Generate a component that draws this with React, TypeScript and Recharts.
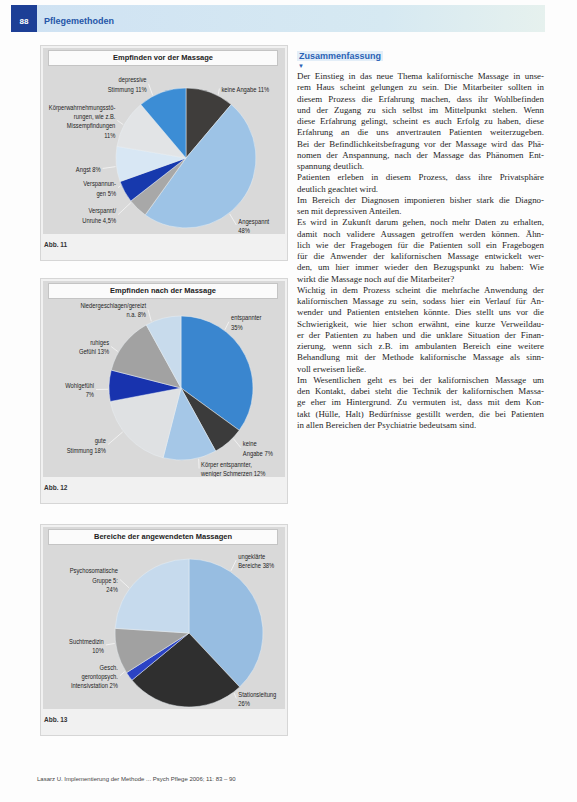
import { PieChart, Pie, Cell } from "recharts";

// Abb. 11 – Empfinden vor der Massage
const vorNames = ["keine Angabe", "Angespannt", "Verspannt/Unruhe", "Verspannungen", "Angst", "Körperwahrnehmungsstörungen", "depressive Stimmung"];
const vorValues = [11, 48, 4.5, 5, 8, 11, 11];
const vorLabels = [
  ["keine Angabe 11%"],
  ["Angespannt", "48%"],
  ["Verspannt/", "Unruhe 4,5%"],
  ["Verspannun-", "gen 5%"],
  ["Angst 8%"],
  ["Körperwahrnehmungsstö-", "rungen, wie z.B.", "Missempfindungen", "11%"],
  ["depressive", "Stimmung 11%"],
];

// Abb. 12 – Empfinden nach der Massage
const nachNames = ["entspannter", "keine Angabe", "Körper entspannter", "gute Stimmung", "Wohlgefühl", "ruhiges Gefühl", "Niedergeschlagen/gereizt"];
const nachValues = [35, 7, 12, 18, 7, 13, 8];
const nachLabels = [
  ["entspannter", "35%"],
  ["keine", "Angabe 7%"],
  ["Körper entspannter,", "weniger Schmerzen 12%"],
  ["gute", "Stimmung 18%"],
  ["Wohlgefühl", "7%"],
  ["ruhiges", "Gefühl 13%"],
  ["Niedergeschlagen/gereizt", "n.a. 8%"],
];

// Abb. 13 – Bereiche der angewendeten Massagen
const bereichNames = ["ungeklärte Bereiche", "Stationsleitung", "Intensivstation", "Suchtmedizin", "Psychosomatische Gruppe"];
const bereichValues = [38, 26, 2, 10, 24];
const bereichLabels = [
  ["ungeklärte", "Bereiche 38%"],
  ["Stationsleitung", "26%"],
  ["Gesch.", "gerontopsych.", "Intensivstation 2%"],
  ["Suchtmedizin", "10%"],
  ["Psychosomatische", "Gruppe 5:", "24%"],
];

// colours and label placement (clock angle in degrees, distance from centre)
const vorColors = ["#3f3d3b", "#9dc3e6", "#a8a8a8", "#1739ad", "#d8e7f4", "#e2e4e6", "#3c8dd5"];
const nachColors = ["#3a86cf", "#3b3b3b", "#a5c7e7", "#dfe1e3", "#1833ae", "#a2a2a2", "#c8dbec"];
const bereichColors = ["#97bde1", "#2f2f2f", "#2b43c4", "#a1a1a1", "#c6daed"];
const vorLabelPos = [[27, 78], [142, 85], [231, 90], [247, 76], [263, 86], [298, 80], [332, 84]];
const nachLabelPos = [[37, 83], [134, 86], [166, 83], [233, 94], [269, 87], [300, 83], [336, 86]];
const bereichLabelPos = [[34, 88], [143, 82], [239, 83], [262, 86], [307, 89]];

const summaryLines = [
  "Der Einstieg in das neue Thema kalifornische Massage in unse-",
  "rem Haus scheint gelungen zu sein. Die Mitarbeiter sollten in",
  "diesem Prozess die Erfahrung machen, dass ihr Wohlbefinden",
  "und der Zugang zu sich selbst im Mittelpunkt stehen. Wenn",
  "diese Erfahrung gelingt, scheint es auch Erfolg zu haben, diese",
  "Erfahrung an die uns anvertrauten Patienten weiterzugeben.",
  "Bei der Befindlichkeitsbefragung vor der Massage wird das Phä-",
  "nomen der Anspannung, nach der Massage das Phänomen Ent-",
  "spannung deutlich.",
  "Patienten erleben in diesem Prozess, dass ihre Privatsphäre",
  "deutlich geachtet wird.",
  "Im Bereich der Diagnosen imponieren bisher stark die Diagno-",
  "sen mit depressiven Anteilen.",
  "Es wird in Zukunft darum gehen, noch mehr Daten zu erhalten,",
  "damit noch validere Aussagen getroffen werden können. Ähn-",
  "lich wie der Fragebogen für die Patienten soll ein Fragebogen",
  "für die Anwender der kalifornischen Massage entwickelt wer-",
  "den, um hier immer wieder den Bezugspunkt zu haben: Wie",
  "wirkt die Massage noch auf die Mitarbeiter?",
  "Wichtig in dem Prozess scheint die mehrfache Anwendung der",
  "kalifornischen Massage zu sein, sodass hier ein Verlauf für An-",
  "wender und Patienten entstehen könnte. Dies stellt uns vor die",
  "Schwierigkeit, wie hier schon erwähnt, eine kurze Verweildau-",
  "er der Patienten zu haben und die unklare Situation der Finan-",
  "zierung, wenn sich z.B. im ambulanten Bereich eine weitere",
  "Behandlung mit der Methode kalifornische Massage als sinn-",
  "voll erweisen ließe.",
  "Im Wesentlichen geht es bei der kalifornischen Massage um",
  "den Kontakt, dabei steht die Technik der kalifornischen Massa-",
  "ge eher im Hintergrund. Zu vermuten ist, dass mit dem Kon-",
  "takt (Hülle, Halt) Bedürfnisse gestillt werden, die bei Patienten",
  "in allen Bereichen der Psychiatrie bedeutsam sind.",
];
const paragraphEnds = [8, 10, 12, 18, 26, 31];

const RAD = Math.PI / 180;
const labelFont = "'Liberation Sans', Arial, sans-serif";

function makeLabel(lines: string[][], pos: number[][]) {
  return (p: any) => {
    const { cx, cy, outerRadius, index } = p;
    const [ang, dist] = pos[index];
    const s = Math.sin(ang * RAD);
    const c = Math.cos(ang * RAD);
    const x = cx + dist * s;
    const y = cy - dist * c;
    const right = s > 0;
    const ex = cx + (outerRadius + 1) * s;
    const ey = cy - (outerRadius + 1) * c;
    const ls = lines[index];
    const lh = 9.4;
    const y0 = y - ((ls.length - 1) * lh) / 2;
    return (
      <g key={`lbl-${index}`}>
        <line x1={ex} y1={ey} x2={right ? x - 2 : x + 2} y2={y} stroke="#f6f6f6" strokeWidth={0.8} />
        <text
          x={x}
          y={y0}
          textAnchor={right ? "start" : "end"}
          dominantBaseline="central"
          fontSize={6.9}
          fontFamily={labelFont}
          fill="#1e1e1e"
          transform={`translate(${x},0) scale(0.84,1) translate(${-x},0)`}
        >
          {ls.map((t, i) => (
            <tspan key={i} x={x} y={y0 + i * lh}>
              {t}
            </tspan>
          ))}
        </text>
      </g>
    );
  };
}

type PanelProps = {
  top: number;
  grayH: number;
  title: string;
  caption: string;
  names: string[];
  values: number[];
  colors: string[];
  labels: string[][];
  labelPos: number[][];
  cx: number;
  cy: number;
  r: number;
};

function PiePanel({ top, grayH, title, caption, names, values, colors, labels, labelPos, cx, cy, r }: PanelProps) {
  const data = names.map((name, i) => ({ name, value: values[i] }));
  return (
    <div style={{ position: "absolute", left: 40, top, width: 248, height: grayH + 30, background: "#f1f1f1", border: "1px solid #d6d6d6", boxSizing: "border-box" }}>
      <div style={{ position: "absolute", left: 2, top: 2, width: 242, height: grayH, background: "#d9d9d9" }}>
        <PieChart width={242} height={grayH}>
          <Pie
            data={data}
            dataKey="value"
            nameKey="name"
            cx={cx}
            cy={cy}
            outerRadius={r}
            startAngle={90}
            endAngle={-270}
            stroke="#e9eef3"
            strokeWidth={0.5}
            labelLine={false}
            label={makeLabel(labels, labelPos)}
            isAnimationActive={false}
          >
            {data.map((d, i) => (
              <Cell key={d.name} fill={colors[i]} />
            ))}
          </Pie>
        </PieChart>
        <div style={{ position: "absolute", left: 5, top: 2, width: 230, height: 16, background: "#fbfbfb", border: "1px solid #c4c4c4", boxSizing: "border-box", fontFamily: labelFont, fontSize: 7.5, fontWeight: 600, color: "#222", textAlign: "center", lineHeight: "14px" }}>
          {title}
        </div>
      </div>
      <div style={{ position: "absolute", left: 3, top: grayH + 9, fontFamily: labelFont, fontSize: 6.5, fontWeight: 700, color: "#333" }}>{caption}</div>
    </div>
  );
}

export default function App() {
  return (
    <div style={{ position: "relative", width: 577, height: 802, background: "#fdfdfd", overflow: "hidden", fontFamily: "'Liberation Serif', serif" }}>
      <style>{`body{margin:0}`}</style>
      {/* header */}
      <div style={{ position: "absolute", left: 11, top: 5, width: 534, height: 27, background: "linear-gradient(90deg,#cfe2f3 0%,#d6e9f2 70%,#e6f1ee 100%)" }} />
      <div style={{ position: "absolute", left: 11, top: 5, width: 26, height: 27, background: "#1d3f96", color: "#fff", fontFamily: labelFont, fontSize: 8, fontWeight: 700, textAlign: "center", lineHeight: "34px" }}>88</div>
      <div style={{ position: "absolute", left: 44, top: 16, fontFamily: labelFont, fontSize: 9, fontWeight: 600, color: "#2656a8" }}>Pflegemethoden</div>

      <PiePanel top={45} grayH={186} title="Empfinden vor der Massage" caption="Abb. 11" names={vorNames} values={vorValues} colors={vorColors} labels={vorLabels} labelPos={vorLabelPos} cx={138} cy={105} r={70} />
      <PiePanel top={278} grayH={196} title="Empfinden nach der Massage" caption="Abb. 12" names={nachNames} values={nachValues} colors={nachColors} labels={nachLabels} labelPos={nachLabelPos} cx={133} cy={102} r={72} />
      <PiePanel top={524} grayH={182} title="Bereiche der angewendeten Massagen" caption="Abb. 13" names={bereichNames} values={bereichValues} colors={bereichColors} labels={bereichLabels} labelPos={bereichLabelPos} cx={141} cy={101} r={74} />

      {/* summary column */}
      <div style={{ position: "absolute", left: 297, top: 51, fontFamily: labelFont, fontSize: 9, fontWeight: 700, color: "#2a62b5", background: "#e3eef8", padding: "0 2px" }}>Zusammenfassung</div>
      <div style={{ position: "absolute", left: 298, top: 63, fontSize: 6, color: "#2a62b5", fontFamily: labelFont }}>▼</div>
      <div style={{ position: "absolute", left: 297, top: 71, width: 247, fontSize: 8.9, lineHeight: "11.25px", color: "#1f1f1f" }}>
        {summaryLines.map((l, i) => {
          const last = paragraphEnds.includes(i);
          return (
            <div key={i} style={{ whiteSpace: "nowrap", textAlign: last ? "left" : "justify", textAlignLast: last ? "left" : "justify" }}>
              {l}
            </div>
          );
        })}
      </div>

      {/* footer */}
      <div style={{ position: "absolute", left: 37, top: 776, fontFamily: labelFont, fontSize: 6, color: "#444" }}>
        Lasarz U. Implementierung der Methode ... Psych Pflege 2006; 11: 83 – 90
      </div>
    </div>
  );
}
